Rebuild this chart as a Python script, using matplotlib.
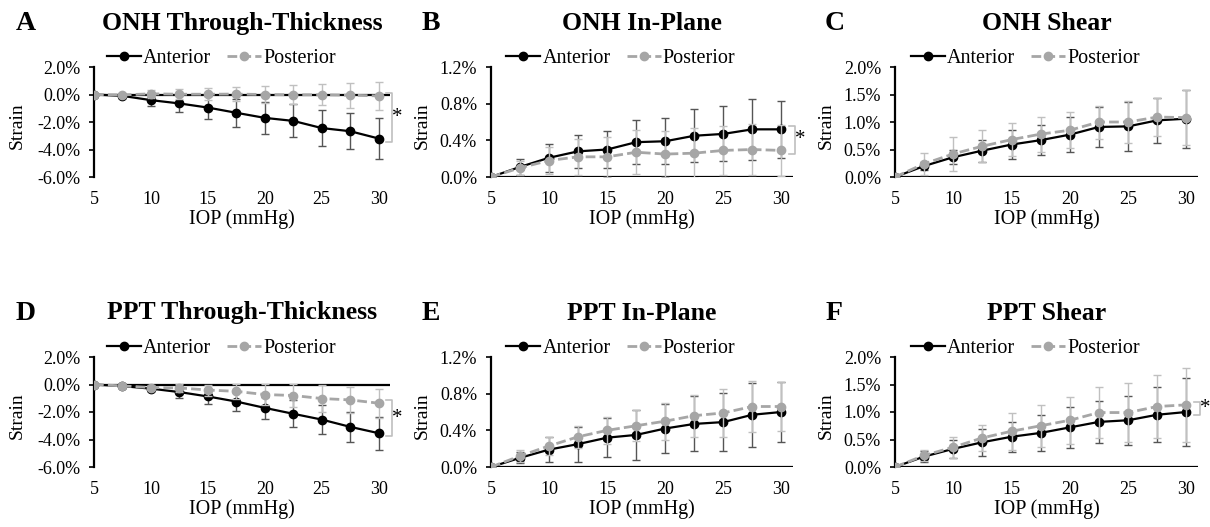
import matplotlib
matplotlib.use('Agg')
import matplotlib.pyplot as plt
import matplotlib.transforms as mtransforms
from matplotlib.lines import Line2D
import numpy as np

plt.rcParams['font.family'] = ['Liberation Serif', 'DejaVu Serif']

iop = [5, 7.5, 10, 12.5, 15, 17.5, 20, 22.5, 25, 27.5, 30]
xticks = [5, 10, 15, 20, 25, 30]

# strain values in %, mean and SD for anterior / posterior
onh_tt_ant = [0, -0.10, -0.41, -0.65, -0.95, -1.33, -1.70, -1.92, -2.44, -2.67, -3.20]
onh_tt_ant_sd = [0, 0.15, 0.45, 0.65, 0.85, 1.00, 1.15, 1.20, 1.30, 1.30, 1.50]
onh_tt_post = [0, -0.03, 0.05, 0.02, 0.02, 0.03, 0.00, -0.02, -0.02, -0.05, -0.10]
onh_tt_post_sd = [0, 0.10, 0.30, 0.35, 0.45, 0.50, 0.60, 0.70, 0.75, 0.90, 1.00]

onh_ip_ant = [0, 0.11, 0.21, 0.28, 0.30, 0.38, 0.39, 0.45, 0.47, 0.52, 0.52]
onh_ip_ant_sd = [0, 0.09, 0.15, 0.18, 0.20, 0.24, 0.25, 0.29, 0.30, 0.33, 0.31]
onh_ip_post = [0, 0.10, 0.18, 0.22, 0.22, 0.27, 0.25, 0.26, 0.29, 0.30, 0.29]
onh_ip_post_sd = [0, 0.08, 0.15, 0.20, 0.22, 0.24, 0.25, 0.27, 0.27, 0.28, 0.28]

onh_sh_ant = [0, 0.20, 0.36, 0.48, 0.59, 0.67, 0.77, 0.91, 0.92, 1.03, 1.06]
onh_sh_ant_sd = [0, 0.08, 0.13, 0.20, 0.26, 0.27, 0.32, 0.36, 0.44, 0.41, 0.53]
onh_sh_post = [0, 0.24, 0.42, 0.56, 0.68, 0.78, 0.85, 1.00, 1.00, 1.09, 1.08]
onh_sh_post_sd = [0, 0.20, 0.31, 0.29, 0.30, 0.32, 0.33, 0.30, 0.38, 0.35, 0.50]

ppt_tt_ant = [0, -0.12, -0.30, -0.55, -0.87, -1.24, -1.70, -2.13, -2.55, -3.08, -3.54]
ppt_tt_ant_sd = [0, 0.08, 0.20, 0.42, 0.55, 0.70, 0.80, 0.97, 1.05, 1.10, 1.20]
ppt_tt_post = [0, -0.10, -0.22, -0.25, -0.40, -0.50, -0.73, -0.80, -1.02, -1.12, -1.36]
ppt_tt_post_sd = [0, 0.10, 0.20, 0.30, 0.40, 0.55, 0.75, 0.85, 0.95, 0.95, 1.05]

ppt_ip_ant = [0, 0.10, 0.19, 0.25, 0.32, 0.35, 0.42, 0.47, 0.49, 0.57, 0.60]
ppt_ip_ant_sd = [0, 0.06, 0.14, 0.19, 0.21, 0.27, 0.27, 0.30, 0.32, 0.35, 0.33]
ppt_ip_post = [0, 0.12, 0.23, 0.33, 0.40, 0.45, 0.50, 0.56, 0.59, 0.66, 0.66]
ppt_ip_post_sd = [0, 0.07, 0.10, 0.12, 0.15, 0.17, 0.20, 0.23, 0.26, 0.28, 0.27]

ppt_sh_ant = [0, 0.19, 0.33, 0.45, 0.55, 0.62, 0.72, 0.82, 0.85, 0.95, 1.00]
ppt_sh_ant_sd = [0, 0.10, 0.17, 0.25, 0.27, 0.32, 0.37, 0.38, 0.45, 0.50, 0.62]
ppt_sh_post = [0, 0.21, 0.36, 0.53, 0.65, 0.75, 0.85, 0.99, 0.99, 1.10, 1.13]
ppt_sh_post_sd = [0, 0.10, 0.19, 0.24, 0.34, 0.38, 0.43, 0.46, 0.53, 0.58, 0.67]

panels = [
    ('A', 'ONH Through-Thickness', onh_tt_ant, onh_tt_ant_sd, onh_tt_post, onh_tt_post_sd, (-6, 2), 2.0, True),
    ('B', 'ONH In-Plane', onh_ip_ant, onh_ip_ant_sd, onh_ip_post, onh_ip_post_sd, (0, 1.2), 0.4, True),
    ('C', 'ONH Shear', onh_sh_ant, onh_sh_ant_sd, onh_sh_post, onh_sh_post_sd, (0, 2.0), 0.5, False),
    ('D', 'PPT Through-Thickness', ppt_tt_ant, ppt_tt_ant_sd, ppt_tt_post, ppt_tt_post_sd, (-6, 2), 2.0, True),
    ('E', 'PPT In-Plane', ppt_ip_ant, ppt_ip_ant_sd, ppt_ip_post, ppt_ip_post_sd, (0, 1.2), 0.4, False),
    ('F', 'PPT Shear', ppt_sh_ant, ppt_sh_ant_sd, ppt_sh_post, ppt_sh_post_sd, (0, 2.0), 0.5, True),
]

W, H = 1210, 527
fig = plt.figure(figsize=(W / 100, H / 100), dpi=100)

cols = [(94, 390), (491, 793), (895, 1198)]
rows = [(67, 177), (357, 467)]

ant_col = '#000000'
ant_err = '#555555'
post_col = '#a6a6a6'
post_err = '#c0c0c0'
post_dash = (0, (3.5, 1.5))

for i, (letter, title, ant, ant_sd, post, post_sd, ylim, ystep, sig) in enumerate(panels):
    l, r = cols[i % 3]
    t, b = rows[i // 3]
    ax = fig.add_axes([l / W, 1 - b / H, (r - l) / W, (b - t) / H])

    ax.errorbar(iop, ant, yerr=ant_sd, color=ant_col, ecolor=ant_err, elinewidth=1.0,
                capsize=3, capthick=1.0, marker='o', markersize=6, linewidth=1.6,
                zorder=3)
    ax.errorbar(iop, post, yerr=post_sd, color=post_col, ecolor=post_err, elinewidth=1.0,
                capsize=3, capthick=1.0, marker='o', markersize=6, linewidth=2.0,
                linestyle=post_dash, zorder=4)

    ax.axhline(0, color='black', linewidth=1.6, zorder=2)
    ax.set_xlim(5, 31)
    ax.set_ylim(*ylim)
    ax.set_xticks(xticks)
    yt = np.arange(ylim[0], ylim[1] + ystep / 2, ystep)
    ax.set_yticks(yt)
    ax.set_yticklabels(['%.1f%%' % v for v in yt])
    for s in ['top', 'right', 'bottom']:
        ax.spines[s].set_visible(False)
    ax.spines['left'].set_linewidth(1.6)
    ax.tick_params(axis='x', length=0, pad=10, labelsize=13)
    ax.tick_params(axis='y', length=3.5, width=1.2, direction='out', pad=6.5, labelsize=13)
    ax.patch.set_visible(False)

    ax.set_xlabel('IOP (mmHg)', fontsize=14.5)
    ax.xaxis.set_label_coords(0.5, -0.29)
    ax.set_ylabel('Strain', fontsize=14)
    ax.yaxis.set_label_coords(-0.23 if i % 3 == 0 else -0.2, 0.47)

    ax.text(0.5, 1.40, title, transform=ax.transAxes, ha='center', va='center',
            fontsize=18.5, fontweight='bold')
    ax.text(-0.23 if i % 3 == 0 else -0.2, 1.40, letter, transform=ax.transAxes,
            ha='center', va='center', fontsize=20, fontweight='bold')

    handles = [Line2D([], [], color=ant_col, marker='o', markersize=6, linewidth=1.6),
               Line2D([], [], color=post_col, marker='o', markersize=6, linewidth=2.0,
                      linestyle=post_dash)]
    ax.legend(handles, ['Anterior', 'Posterior'], loc='center', bbox_to_anchor=(0.43, 1.08),
              ncol=2, frameon=False, fontsize=14.5, handlelength=1.7, handletextpad=0.1,
              columnspacing=0.8, borderpad=0)

    if sig:
        span = ylim[1] - ylim[0]
        hi = max(ant[-1], post[-1]) + 0.03 * span
        lo = min(ant[-1], post[-1]) - 0.03 * span
        trans = mtransforms.blended_transform_factory(ax.transAxes, ax.transData)
        xv = 1.006
        ax.plot([xv - 0.02, xv, xv, xv - 0.02], [hi, hi, lo, lo], color='#bfbfbf',
                linewidth=1.2, transform=trans, clip_on=False)
        ax.text(xv + 0.018, (hi + lo) / 2, '*', transform=trans, ha='center',
                va='center', fontsize=15)

fig.savefig('out.png', dpi=100)
